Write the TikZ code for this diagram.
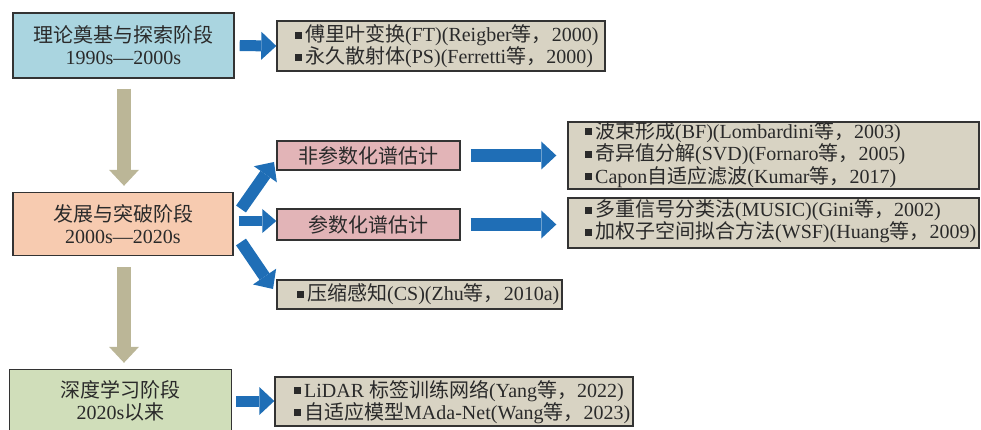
\documentclass[tikz,border=0pt]{standalone}
\usepackage{fontspec}
\setmainfont{Liberation Serif}
\newfontfamily\cjk{Noto Sans CJK SC}
\usetikzlibrary{arrows.meta}
\newcommand\zh[1]{{\cjk #1}}
\newcommand\bul{\raisebox{0.16em}{\rule{7pt}{7pt}}\hspace{3pt}}
\definecolor{bluefill}{HTML}{AAD5E0}
\definecolor{orangefill}{HTML}{F7CBB0}
\definecolor{greenfill}{HTML}{D0DEBA}
\definecolor{pinkfill}{HTML}{E2B4B7}
\definecolor{grayfill}{HTML}{D8D3C3}
\definecolor{arrblue}{HTML}{1F6EB6}
\definecolor{arrtan}{HTML}{BBB697}
\definecolor{bordercol}{HTML}{333333}
\definecolor{txtcol}{HTML}{2A2A2A}
\tikzset{
  box/.style={draw=bordercol, line width=1.4pt, inner sep=0pt},
  stagebox/.style={box, align=center, text=txtcol, font=\fontsize{20}{22}\selectfont},
  itemtext/.style={anchor=west, inner sep=0pt, align=left, text=txtcol, font=\fontsize{20}{20.5}\selectfont},
  pinkbox/.style={box, fill=pinkfill, text=txtcol, font=\fontsize{20}{21}\selectfont},
  fatblue/.style={draw=arrblue, line width=11pt, -{Triangle[length=15pt,width=28pt,line width=0pt]}},
  fattan/.style={draw=arrtan, line width=14pt, -{Triangle[length=16pt,width=30pt,line width=0pt]}},
}
\begin{document}
\begin{tikzpicture}[x=1pt,y=-1pt]
\useasboundingbox (0,0) rectangle (981,430);
% stage boxes
\node[stagebox, fill=bluefill, minimum width=221pt, minimum height=65pt] (s1) at (123.5,45.5) {\zh{理论奠基与探索阶段}\\1990s—2000s};
\node[stagebox, fill=orangefill, minimum width=220pt, minimum height=63pt] (s2) at (123,224) {\zh{发展与突破阶段}\\2000s—2020s};
\node[stagebox, fill=greenfill, minimum width=222pt, minimum height=63pt] (s3) at (120.5,401) {\zh{深度学习阶段}\\2020s\zh{以来}};
% item boxes
\node[box, fill=grayfill, minimum width=328pt, minimum height=50pt] (r1) at (441,46) {};
\node[itemtext] (r1t) at (295,46.5) {\bul\zh{傅里叶变换}(FT)(Reigber\zh{等，}2000)\\\bul\zh{永久散射体}(PS)(Ferretti\zh{等，}2000)};
\node[pinkbox, minimum width=183pt, minimum height=29pt] (p1) at (368.5,155.5) {\zh{非参数化谱估计}};
\node[pinkbox, minimum width=183pt, minimum height=31pt] (p2) at (368.5,224.5) {\zh{参数化谱估计}};
\node[box, fill=grayfill, minimum width=285pt, minimum height=29pt] (cs) at (419.5,294.5) {};
\node[itemtext] (cst) at (297,294.5) {\bul\zh{压缩感知}(CS)(Zhu\zh{等，}2010a)};
\node[box, fill=grayfill, minimum width=411pt, minimum height=67pt] (ra) at (773.5,155.5) {};
\node[itemtext] (rat) at (585,154.5) {\bul\zh{波束形成}(BF)(Lombardini\zh{等，}2003)\\\bul\zh{奇异值分解}(SVD)(Fornaro\zh{等，}2005)\\\bul Capon\zh{自适应滤波}(Kumar\zh{等，}2017)};
\node[box, fill=grayfill, minimum width=411pt, minimum height=50pt] (rb) at (773.5,223) {};
\node[itemtext] (rbt) at (585,221.5) {\bul\zh{多重信号分类法}(MUSIC)(Gini\zh{等，}2002)\\\bul\zh{加权子空间拟合方法}(WSF)(Huang\zh{等，}2009)};
\node[box, fill=grayfill, minimum width=358pt, minimum height=49pt] (r3) at (454,401.5) {};
\node[itemtext] (r3t) at (294,402) {\bul LiDAR \zh{标签训练网络}(Yang\zh{等，}2022)\\\bul\zh{自适应模型}MAda-Net(Wang\zh{等，}2023)};
% coordinates for diagonal arrows
\coordinate (uS) at (241,209);
\coordinate (uE) at (274,162);
\coordinate (dS) at (241,242);
\coordinate (dE) at (273,289);
% arrows
\draw[fatblue, shorten <=5pt] (s1.east) -- (r1.west);
\draw[fattan, shorten <=10pt, shorten >=6pt] ([xshift=0.5pt]s1.south) -- ([xshift=0.5pt]s1.south |- s2.north);
\draw[fattan, shorten <=11pt, shorten >=6pt] ([xshift=1pt]s2.south) -- ([xshift=1pt]s2.south |- s3.north);
\draw[fatblue, line width=12pt] (uS) -- (uE);
\draw[fatblue, line width=10pt, -{Triangle[length=14pt,width=24pt,line width=0pt]}, shorten <=5pt] ([yshift=3pt]s2.east) -- ([yshift=3pt]s2.east -| p2.west);
\draw[fatblue, line width=12pt] (dS) -- (dE);
\draw[fatblue, line width=13pt, shorten <=10pt, shorten >=11pt] (p1.east) -- (p1.east -| ra.west);
\draw[fatblue, line width=13pt, shorten <=10pt, shorten >=11pt] (p2.east) -- (p2.east -| rb.west);
\draw[fatblue, shorten <=4pt] (s3.east) -- (s3.east -| r3.west);
\end{tikzpicture}
\end{document}
